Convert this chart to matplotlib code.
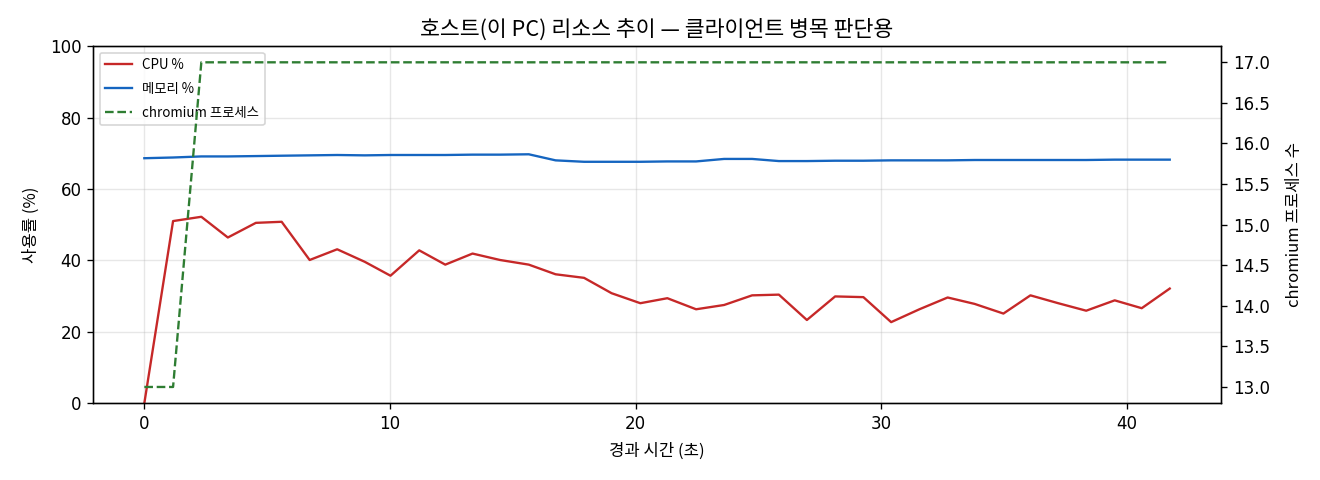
import matplotlib
matplotlib.use("Agg")
import matplotlib.pyplot as plt

plt.rcParams['font.family'] = ['Noto Sans CJK KR', 'DejaVu Sans']
plt.rcParams['axes.unicode_minus'] = False

# 경과 시간 (초)
elapsed = [0, 1.17, 2.32, 3.40, 4.54, 5.59, 6.73, 7.85, 8.97, 10.02,
           11.19, 12.25, 13.36, 14.48, 15.65, 16.74, 17.90, 19.02, 20.19, 21.29,
           22.46, 23.60, 24.74, 25.83, 26.97, 28.12, 29.27, 30.40, 31.55, 32.70,
           33.80, 34.97, 36.07, 37.20, 38.34, 39.50, 40.60, 41.74]

cpu = [0.0, 51.0, 52.2, 46.4, 50.5, 50.8, 40.1, 43.1, 39.6, 35.7,
       42.8, 38.8, 41.9, 40.1, 38.8, 36.1, 35.1, 30.8, 28.0, 29.4,
       26.3, 27.5, 30.2, 30.4, 23.3, 29.9, 29.7, 22.7, 26.3, 29.6,
       27.8, 25.1, 30.2, 28.0, 25.9, 28.8, 26.6, 32.1]

mem = [68.6, 68.8, 69.1, 69.1, 69.2, 69.3, 69.4, 69.5, 69.4, 69.5,
       69.5, 69.5, 69.6, 69.6, 69.7, 68.0, 67.6, 67.6, 67.6, 67.7,
       67.7, 68.4, 68.4, 67.8, 67.8, 67.9, 67.9, 68.0, 68.0, 68.0,
       68.1, 68.1, 68.1, 68.1, 68.1, 68.2, 68.2, 68.2]

chromium = [13, 13] + [17] * 36

fig = plt.figure(figsize=(11, 4), dpi=120)
ax = fig.add_axes([0.0705, 0.160, 0.8545, 0.744])
ax2 = ax.twinx()

l1, = ax.plot(elapsed, cpu, color='#c62828', lw=1.4, label='CPU %')
l2, = ax.plot(elapsed, mem, color='#1565c0', lw=1.4, label='메모리 %')
l3, = ax2.plot(elapsed, chromium, color='#2e7d32', lw=1.4, ls='--', label='chromium 프로세스')

ax.set_ylim(0, 100)
ax.set_xlabel('경과 시간 (초)', labelpad=6)
ax.set_ylabel('사용률 (%)', labelpad=6)
ax2.set_ylabel('chromium 프로세스 수', labelpad=10)
ax.set_title('호스트(이 PC) 리소스 추이 — 클라이언트 병목 판단용', fontsize=13)
ax.grid(True, alpha=0.3)

for a in (ax, ax2):
    for lbl in a.get_xticklabels() + a.get_yticklabels():
        lbl.set_fontfamily('DejaVu Sans')

ax.legend(handles=[l1, l2, l3], loc='upper left', fontsize=8, labelspacing=0.75)

fig.savefig('out.png', dpi=120)
